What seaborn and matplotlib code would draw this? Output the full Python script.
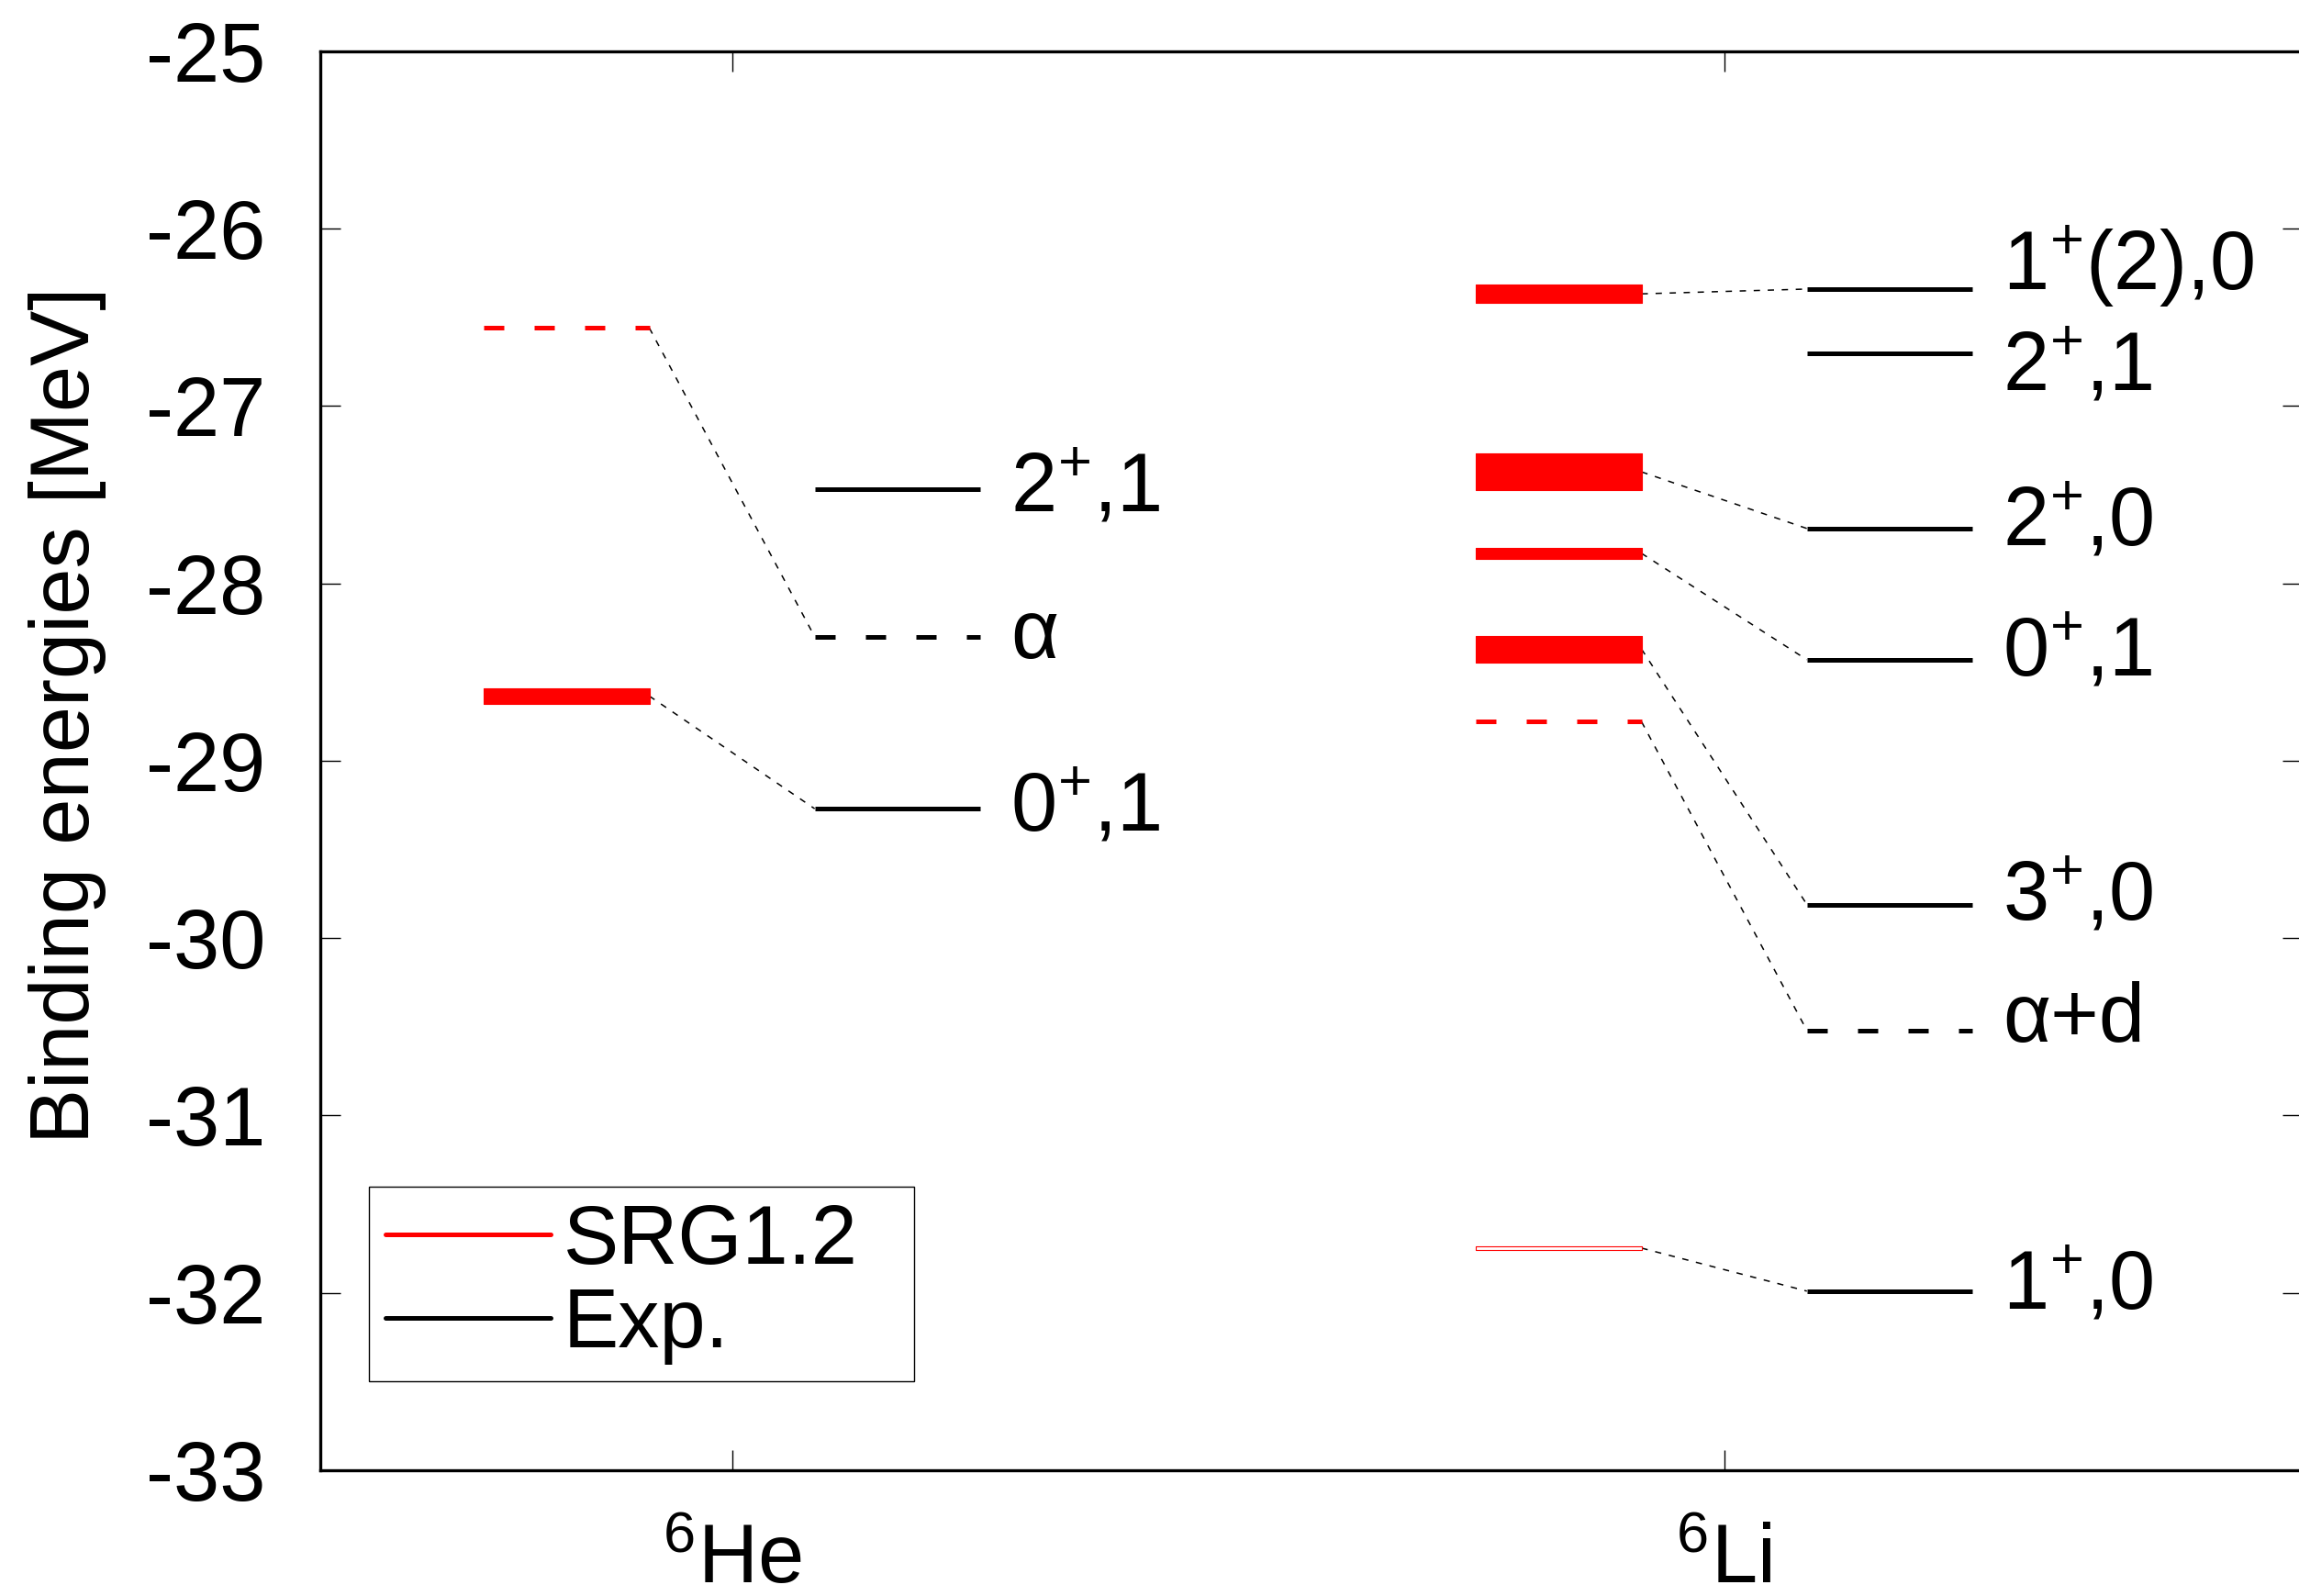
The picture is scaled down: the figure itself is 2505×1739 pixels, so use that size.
import numpy as np
import pandas as pd
import matplotlib.pyplot as plt
from matplotlib.lines import Line2D
import seaborn as sns

sns.set_theme(style='ticks')
plt.rcParams['font.family'] = ['Liberation Sans', 'DejaVu Sans']
plt.rcParams['mathtext.fontset'] = 'custom'
plt.rcParams['mathtext.rm'] = 'Liberation Sans'
plt.rcParams['mathtext.it'] = 'Liberation Sans'
plt.rcParams['mathtext.bf'] = 'Liberation Sans:bold'
plt.rcParams['axes.unicode_minus'] = False
for key in ['text.color', 'axes.labelcolor', 'xtick.color', 'ytick.color', 'axes.edgecolor']:
    plt.rcParams[key] = 'black'

# x axis: the two nuclei
nuclei = ['$^{6}$He', '$^{6}$Li']
nucleus_pos = [1, 2]

# 6He -- SRG1.2 bands (low/high edge), threshold, experiment
he_srg_low = [-28.68]
he_srg_high = [-28.59]
he_srg_thresh = -26.56
he_exp = [-27.47, -29.27]
he_exp_labels = ['2$^{+}$,1', '0$^{+}$,1']
he_exp_thresh = -28.30
he_thresh_label = 'α'
he_links = [(0, 1)]  # (srg band, exp level)

# 6Li
li_srg_low = [-26.42, -27.475, -27.863, -28.445, -31.76]
li_srg_high = [-26.314, -27.267, -27.798, -28.296, -31.735]
li_srg_thresh = -28.78
li_exp = [-26.34, -26.70, -27.69, -28.43, -29.81, -31.99]
li_exp_labels = ['1$^{+}$(2),0', '2$^{+}$,1', '2$^{+}$,0', '0$^{+}$,1', '3$^{+}$,0', '1$^{+}$,0']
li_exp_thresh = -30.52
li_thresh_label = 'α+d'
li_links = [(0, 0), (1, 2), (2, 3), (3, 4), (4, 5)]

# styling
FS = 65
LW = 3.6
DASH = (0, (4.4, 6.6))
LINK = dict(color='black', lw=1.1, ls=(0, (4.5, 5.5)))
BASE_DY = -17.6
hollow = {(2, 4)}  # nucleus position, band index drawn as outline only
# vertical nudges of the level labels (points)
label_shift = {(2, 0): 17.2, (2, 1): -11.8, (2, 2): 4.3, (2, 3): 5, (2, 4): 5.1, (2, 5): 3.6}
thresh_shift = {1: 0.7, 2: 9}

fig = plt.figure(figsize=(25.05, 17.39), dpi=100)
ax = fig.add_axes([0.1393, 0.0788, 0.8623, 0.8890])

nuclei_data = [
    (nucleus_pos[0], he_srg_low, he_srg_high, he_srg_thresh, he_exp, he_exp_labels,
     he_exp_thresh, he_thresh_label, he_links),
    (nucleus_pos[1], li_srg_low, li_srg_high, li_srg_thresh, li_exp, li_exp_labels,
     li_exp_thresh, li_thresh_label, li_links),
]

for xc, lo, hi, sthr, exp, labels, ethr, tlabel, links in nuclei_data:
    xs = [xc - 0.25, xc - 0.0833]
    xe = [xc + 0.0833, xc + 0.25]
    # SRG bands
    for i, (a, b) in enumerate(zip(lo, hi)):
        face = 'white' if (xc, i) in hollow else 'red'
        ax.fill_between(xs, a, b, facecolor=face, edgecolor='red', lw=0.8, zorder=3)
    ax.plot(xs, [sthr, sthr], color='red', lw=LW, ls=DASH, zorder=3)
    # experiment
    for i, (e, lab) in enumerate(zip(exp, labels)):
        ax.plot(xe, [e, e], color='black', lw=LW, solid_capstyle='butt', zorder=3)
        ax.annotate(lab, xy=(xe[1], e), xytext=(24, BASE_DY + label_shift.get((xc, i), 0)),
                    textcoords='offset points', va='baseline', ha='left', fontsize=FS)
    ax.plot(xe, [ethr, ethr], color='black', lw=LW, ls=DASH, zorder=3)
    ax.annotate(tlabel, xy=(xe[1], ethr), xytext=(24, BASE_DY + thresh_shift[xc]),
                textcoords='offset points', va='baseline', ha='left', fontsize=FS)
    # connectors
    for i, j in links:
        ax.plot([xs[1], xe[0]], [(lo[i] + hi[i]) / 2, exp[j]], zorder=2, **LINK)
    ax.plot([xs[1], xe[0]], [sthr, ethr], zorder=2, **LINK)

ax.set_xlim(0.585, 2.583)
ax.set_ylim(-33, -25)
ax.set_xticks(nucleus_pos)
ax.set_xticklabels(nuclei)
ax.set_yticks(np.arange(-33, -24, 1))
ax.tick_params(axis='both', direction='in', length=15.8, width=1.0, labelsize=FS,
               colors='black', labelcolor='black', top=True, right=True)
ax.tick_params(axis='y', pad=43)
ax.tick_params(axis='x', pad=41)
for s in ax.spines.values():
    s.set_linewidth(2.4)
    s.set_color('black')

ax.set_ylabel('Binding energies [MeV]', fontsize=FS, color='black')
ax.yaxis.set_label_coords(-0.108, 0.532)

handles = [Line2D([], [], color='red', lw=LW), Line2D([], [], color='black', lw=LW)]
leg = ax.legend(handles, ['SRG1.2', 'Exp.'], loc='lower left',
                bbox_to_anchor=(0.0245, 0.0627, 0.275, 0.137), mode='expand',
                borderaxespad=0, borderpad=0.2, handlelength=2.0, handletextpad=0.15,
                labelspacing=0.07, fontsize=FS, frameon=True, fancybox=False,
                edgecolor='black', framealpha=1, labelcolor='black')
leg.get_frame().set_linewidth(1.0)

fig.savefig('out.png', dpi=100)
